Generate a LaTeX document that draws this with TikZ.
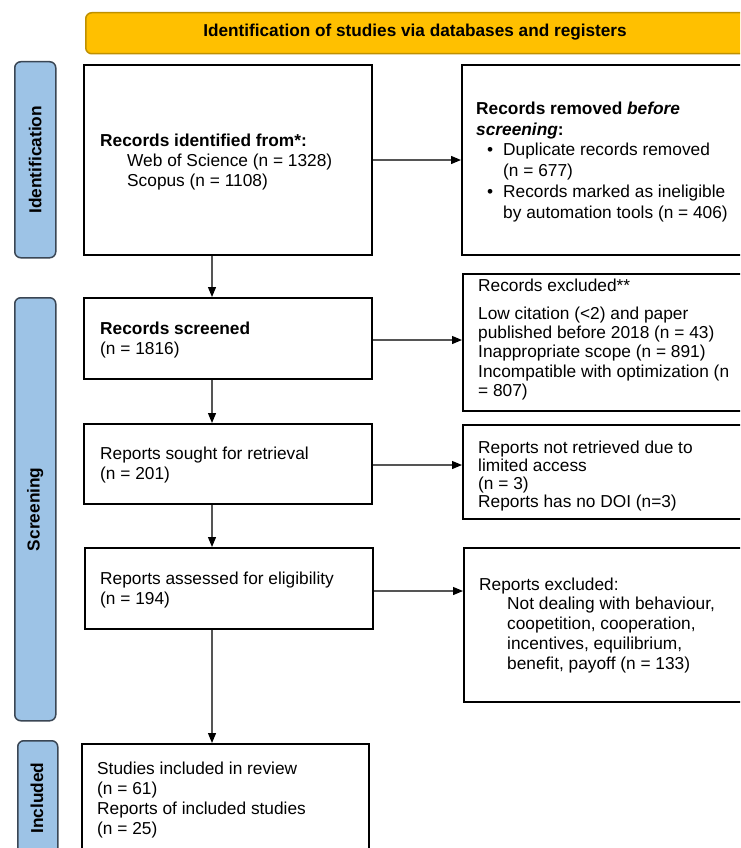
\documentclass[tikz,border=0pt]{standalone}
\usepackage{fontspec}
\setmainfont{Liberation Sans}
\usetikzlibrary{arrows.meta}
\definecolor{bannerfill}{HTML}{FFC000}
\definecolor{bannerdraw}{HTML}{BF9000}
\definecolor{phasefill}{HTML}{9DC3E6}
\definecolor{phasedraw}{HTML}{3A4654}
\definecolor{arrowgray}{HTML}{555555}
\newcommand{\fl}{\rule{0pt}{14pt}}
\tikzset{
  box/.style={draw=black, line width=2pt, fill=white, rectangle, inner sep=0pt, anchor=north west},
  phase/.style={draw=phasedraw, line width=1.5pt, fill=phasefill, rounded corners=6pt, rectangle, inner sep=0pt, anchor=north west},
  phasetext/.style={rotate=90, font=\bfseries\fontsize{17.3}{20}\selectfont, inner sep=0pt},
  txt/.style={anchor=north west, inner sep=0pt, align=left, font=\fontsize{17.3}{20}\selectfont},
  flow/.style={draw=arrowgray, line width=1.2pt, -{Triangle[length=10pt,width=8pt,color=black]}}
}
\begin{document}
\begin{tikzpicture}[x=1pt,y=-1pt]
\clip (0,0) rectangle (740,848);
\fill[white] (0,0) rectangle (740,848);
% banner
\node[draw=bannerdraw, line width=1.5pt, fill=bannerfill, rounded corners=6pt, rectangle, inner sep=0pt,
      anchor=north west, minimum width=700pt, minimum height=41pt] (banner) at (85,12) {};
\node[inner sep=0pt, font=\bfseries\fontsize{17.2}{20}\selectfont] (bannertxt) at (415,32.5)
  {Identification of studies via databases and registers};
% phase labels
\node[phase, minimum width=41pt, minimum height=196pt] (pid) at (14,61) {};
\node[phasetext] (pidt) at (pid.center) {Identification};
\node[phase, minimum width=41pt, minimum height=423pt] (psc) at (14,297) {};
\node[phasetext] (psct) at (psc.center) {Screening};
\node[phase, minimum width=40pt, minimum height=130pt] (pin) at (17,740) {};
\node[phasetext] (pint) at (37,798) {Included};
% left boxes
\node[box, minimum width=288pt, minimum height=190pt] (b1) at (83,64) {};
\node[box, minimum width=288pt, minimum height=81pt] (b2) at (83,297) {};
\node[box, minimum width=288pt, minimum height=80pt] (b3) at (83,423) {};
\node[box, minimum width=288pt, minimum height=81pt] (b4) at (84,547) {};
\node[box, minimum width=287pt, minimum height=130pt] (b5) at (81,743) {};
% right boxes
\node[box, minimum width=300pt, minimum height=190pt] (r1) at (461,64) {};
\node[box, minimum width=300pt, minimum height=137pt] (r2) at (462,273) {};
\node[box, minimum width=300pt, minimum height=94pt] (r3) at (462,424) {};
\node[box, minimum width=300pt, minimum height=154pt] (r4) at (463,547) {};
% texts
\node[txt] (t1) at (100,132) {\fl\textbf{Records identified from*:}\\
  \hspace*{27pt}Web of Science (n = 1328)\\
  \hspace*{27pt}Scopus (n = 1108)};
\node[txt, font=\fontsize{17.3}{20.8}\selectfont] (tr1) at (476,100) {\fl\textbf{Records removed \textit{before}}\\
  \textbf{\textit{screening}:}\\
  \makebox[27pt][l]{\hspace*{11pt}•}Duplicate records removed\\
  \hspace*{27pt}(n = 677)\\
  \makebox[27pt][l]{\hspace*{11pt}•}Records marked as ineligible\\
  \hspace*{27pt}by automation tools (n = 406)};
\node[txt] (t2) at (100,320) {\fl\textbf{Records screened}\\(n = 1816)};
\node[txt, font=\fontsize{17.3}{19.3}\selectfont] (tr2) at (478,277) {\fl Records excluded**\\[8.7pt]
  Low citation (<2) and paper\\
  published before 2018 (n = 43)\\
  Inappropriate scope (n = 891)\\
  Incompatible with optimization (n\\
  = 807)};
\node[txt] (t3) at (100,445) {\fl Reports sought for retrieval\\(n = 201)};
\node[txt, font=\fontsize{17.3}{18}\selectfont] (tr3) at (478,439) {\fl Reports not retrieved due to\\
  limited access\\
  (n = 3)\\
  Reports has no DOI (n=3)};
\node[txt] (t4) at (100,570) {\fl Reports assessed for eligibility\\(n = 194)};
\node[txt, font=\fontsize{17.3}{19.7}\selectfont] (tr4) at (479,576) {\fl Reports excluded:\\
  \hspace*{28pt}Not dealing with behaviour,\\
  \hspace*{28pt}coopetition, cooperation,\\
  \hspace*{28pt}incentives, equilibrium,\\
  \hspace*{28pt}benefit, payoff (n = 133)};
\node[txt] (t5) at (97,760) {\fl Studies included in review\\(n = 61)\\Reports of included studies\\(n = 25)};
% connectors
\coordinate (ax) at (212,0);
\draw[flow] (b1.south -| ax) -- (b2.north -| ax);
\draw[flow] (b2.south -| ax) -- (b3.north -| ax);
\draw[flow] (b3.south -| ax) -- (b4.north -| ax);
\draw[flow] (b4.south -| ax) -- (b5.north -| ax);
\draw[flow] (b1.east) -- (b1.east -| r1.west);
\draw[flow] ([yshift=-1.5pt]b2.east) -- ([yshift=-1.5pt]b2.east -| r2.west);
\draw[flow] ([yshift=-1pt]b3.east) -- ([yshift=-1pt]b3.east -| r3.west);
\draw[flow] ([yshift=-2.5pt]b4.east) -- ([yshift=-2.5pt]b4.east -| r4.west);
\end{tikzpicture}
\end{document}
